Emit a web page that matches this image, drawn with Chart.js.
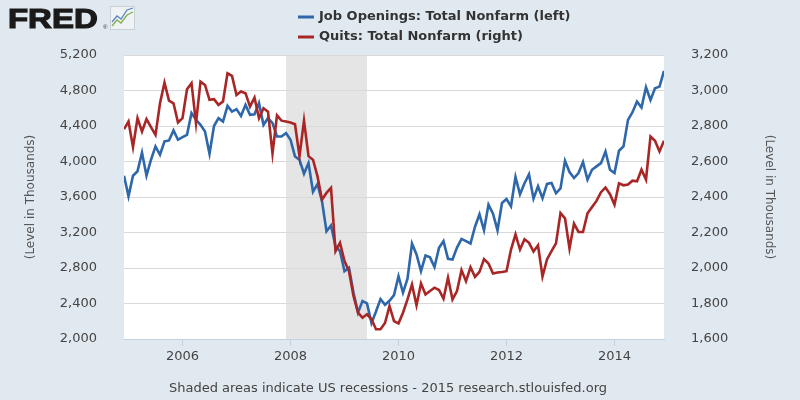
<!DOCTYPE html>
<html>
<head>
<meta charset="utf-8">
<script src="https://cdn.jsdelivr.net/npm/chart.js@4.4.0/dist/chart.umd.min.js"></script>
<style>
html,body{margin:0;padding:0;background:#e1e9f0;}
#wrap{width:800px;height:400px;position:relative;}
</style>
</head>
<body>
<div id="wrap"><canvas id="c" width="800" height="400"></canvas></div>
<script>
// monthly series, first point Dec 2004
const startYear=2004, startMonth=11;
const jobOpenings=[3840,3607,3840,3890,4100,3840,4020,4170,4076,4226,4237,4350,4245,4275,4300,4545,4470,4413,4338,4087,
4400,4488,4450,4627,4563,4590,4514,4638,4526,4533,4660,4413,4488,4432,4282,4282,4320,4245,4057,4020,
3862,3983,3660,3745,3551,3214,3280,3045,2989,2764,2802,2521,2297,2427,2401,2180,2310,2450,2385,2430,
2495,2708,2521,2680,3076,2952,2764,2940,2920,2810,3027,3102,2904,2896,3030,3128,3102,3076,3265,3405,
3225,3514,3413,3225,3533,3578,3495,3825,3630,3755,3855,3581,3720,3585,3748,3757,3642,3697,4008,3881,
3814,3870,3993,3795,3907,3945,3982,4113,3907,3870,4121,4170,4469,4555,4675,4608,4837,4694,4825,4844,5020];
const quits=[2782,2825,2681,2844,2769,2839,2794,2750,2928,3044,2943,2928,2820,2844,3007,3041,2816,3050,3031,2947,
2951,2919,2938,3097,3082,2975,2994,2985,2909,2960,2844,2900,2881,2645,2860,2830,2825,2820,2810,2630,
2830,2630,2610,2516,2385,2423,2451,2095,2142,2039,1982,1842,1748,1720,1739,1711,1655,1655,1690,1786,
1701,1688,1748,1823,1907,1790,1913,1851,1870,1889,1876,1827,1945,1823,1870,1988,1926,2004,1950,1978,
2050,2025,1969,1975,1977,1982,2104,2190,2104,2162,2142,2093,2128,1952,2048,2095,2139,2310,2280,2110,
2250,2203,2203,2308,2343,2378,2427,2453,2416,2357,2477,2466,2470,2492,2488,2554,2498,2741,2717,2657,2717];
const yearTicks=[2006,2008,2010,2012,2014];
const recessions=[[2007+11/12,2009+5/12]];
const seriesNames=['Job Openings: Total Nonfarm (left)','Quits: Total Nonfarm (right)'];
const seriesColors=['#2e67aa','#a82626'];

const monthX=jobOpenings.map((v,i)=>startYear+(startMonth+i)/12);
const font='DejaVu Sans';

const backdrop={
    id:'backdrop',
    beforeDraw:(chart)=>{
        const ctx=chart.ctx, a=chart.chartArea, xs=chart.scales.x;
        ctx.save();
        ctx.fillStyle='#e1e9f0';
        ctx.fillRect(0,0,chart.width,chart.height);
        ctx.fillStyle='#ffffff';
        ctx.fillRect(a.left,a.top,a.right-a.left,a.bottom-a.top);
        ctx.fillStyle='#e5e5e5';
        recessions.forEach(r=>{
            const x0=xs.getPixelForValue(r[0]), x1=xs.getPixelForValue(r[1]);
            ctx.fillRect(x0,a.top,x1-x0,a.bottom-a.top);
        });
        ctx.restore();
    },
    afterDraw:(chart)=>{
        const ctx=chart.ctx;
        ctx.save();
        // FRED logo
        ctx.save();
        ctx.translate(8,28);
        ctx.scale(1.22,1);
        ctx.font='bold 27px "Liberation Sans"';
        ctx.fillStyle='#1a1a1a';
        ctx.strokeStyle='#1a1a1a';
        ctx.lineWidth=1.2;
        ctx.fillText('FRED',0,0);
        ctx.strokeText('FRED',0,0);
        ctx.restore();
        ctx.font='6px "Liberation Sans"';
        ctx.fillStyle='#333';
        ctx.fillText('®',103,29);
        ctx.fillStyle='#f0f3f5';
        ctx.strokeStyle='#c9d0d6';
        ctx.lineWidth=1;
        ctx.fillRect(110,6,25,24);
        ctx.strokeRect(110.5,6.5,24,23);
        ctx.lineWidth=1.3;
        ctx.strokeStyle='#7fae4f';
        ctx.beginPath();ctx.moveTo(112,26);ctx.lineTo(117,20);ctx.lineTo(121,23);ctx.lineTo(127,15);ctx.lineTo(133,12);ctx.stroke();
        ctx.strokeStyle='#5b86b8';
        ctx.beginPath();ctx.moveTo(112,22);ctx.lineTo(117,16);ctx.lineTo(121,19);ctx.lineTo(127,10);ctx.lineTo(133,8);ctx.stroke();
        // legend
        ctx.font='bold 13px "'+font+'"';
        ctx.textBaseline='middle';
        chart.data.datasets.forEach((d,i)=>{
            const y=17+20*i;
            ctx.strokeStyle=d.borderColor;
            ctx.lineWidth=3;
            ctx.beginPath();ctx.moveTo(298,y);ctx.lineTo(314,y);ctx.stroke();
            ctx.fillStyle='#333333';
            ctx.textAlign='left';
            ctx.fillText(d.label,319,y);
        });
        // footer
        ctx.font='13px "'+font+'"';
        ctx.fillStyle='#444444';
        ctx.textAlign='center';
        ctx.textBaseline='alphabetic';
        ctx.fillText('Shaded areas indicate US recessions - 2015 research.stlouisfed.org',388,392);
        ctx.restore();
    }
};

const tickFont={family:font,size:13};
new Chart(document.getElementById('c'),{
    type:'line',
    data:{
        datasets:[{
            label:seriesNames[0],
            data:jobOpenings.map((v,i)=>({x:monthX[i],y:v})),
            yAxisID:'y',
            borderColor:seriesColors[0],
            borderWidth:2.6,
            pointRadius:0,
            tension:0,
            order:1
        },{
            label:seriesNames[1],
            data:quits.map((v,i)=>({x:monthX[i],y:v})),
            yAxisID:'y1',
            borderColor:seriesColors[1],
            borderWidth:2.6,
            pointRadius:0,
            tension:0,
            order:0
        }]
    },
    options:{
        responsive:false,
        animation:false,
        devicePixelRatio:1,
        layout:{padding:{top:55,left:0,right:0,bottom:0}},
        plugins:{legend:{display:false},tooltip:{enabled:false}},
        scales:{
            x:{
                type:'linear',
                min:monthX[0],
                max:monthX[monthX.length-1],
                afterBuildTicks:(s)=>{s.ticks=yearTicks.map(v=>({value:v}));},
                afterFit:(s)=>{s.height=61;},
                grid:{drawOnChartArea:false,drawTicks:true,tickLength:7,color:'#c2d1e0'},
                border:{color:'#c2d1e0'},
                ticks:{padding:3,color:'#444',font:tickFont,maxRotation:0,autoSkip:false,callback:(v)=>String(v)}
            },
            y:{
                position:'left',
                min:2000,max:5200,
                afterFit:(s)=>{s.width=124;},
                grid:{color:'#d9d9d9',drawTicks:false},
                border:{display:false},
                ticks:{stepSize:400,padding:27,color:'#444',font:tickFont,callback:(v)=>v.toLocaleString('en-US')},
                title:{display:true,text:'(Level in Thousands)',color:'#555',font:{family:font,size:12},padding:{top:24,bottom:0}}
            },
            y1:{
                position:'right',
                min:1600,max:3200,
                afterFit:(s)=>{s.width=136;},
                grid:{display:false,drawTicks:false},
                border:{display:false},
                ticks:{stepSize:200,padding:27,color:'#444',font:tickFont,callback:(v)=>v.toLocaleString('en-US')},
                title:{display:true,text:'(Level in Thousands)',color:'#555',font:{family:font,size:12},padding:{top:24,bottom:0}}
            }
        }
    },
    plugins:[backdrop]
});
</script>
</body>
</html>
